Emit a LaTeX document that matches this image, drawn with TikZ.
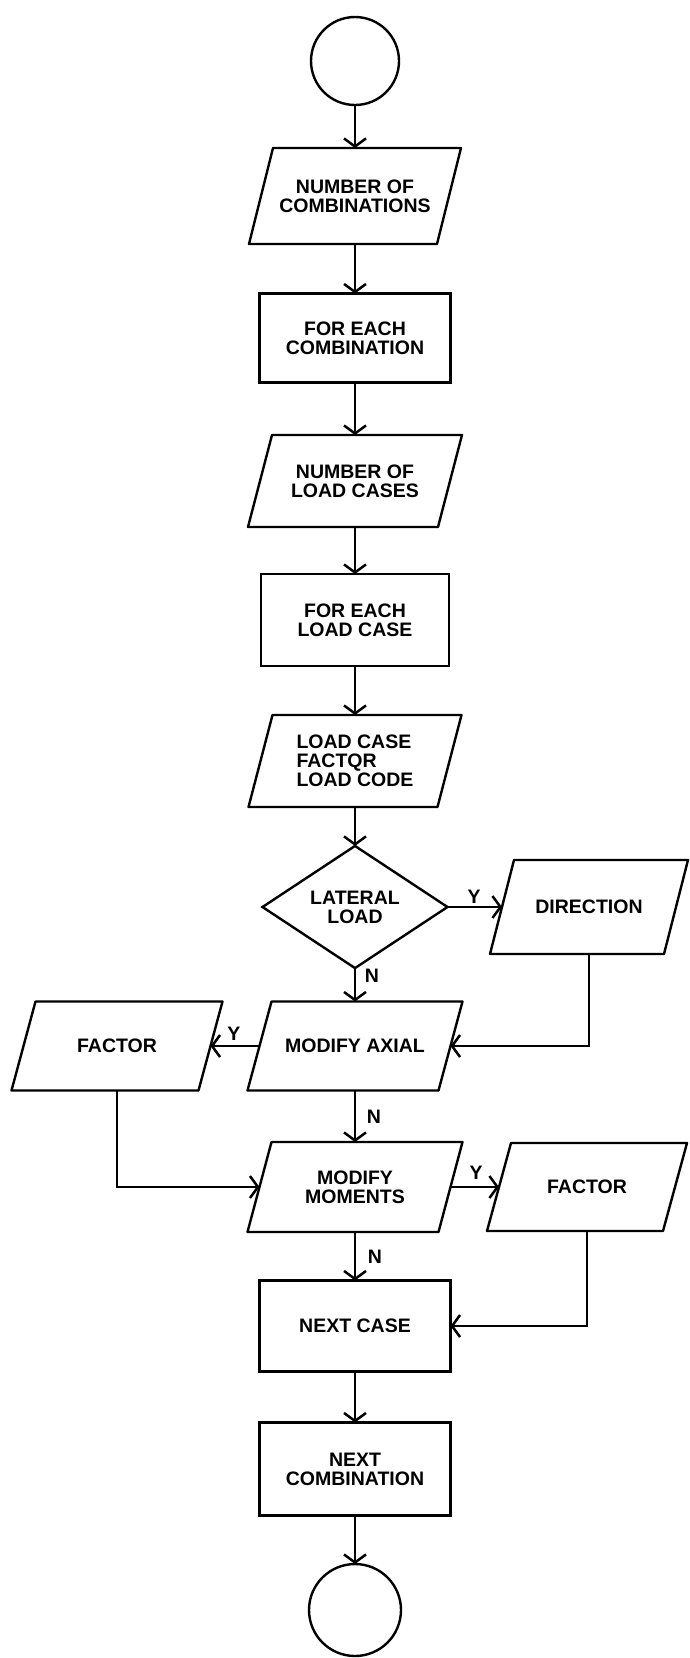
\documentclass[tikz,border=0pt]{standalone}
\usepackage{fontspec}
\setmainfont{Liberation Sans}
\usetikzlibrary{shapes.geometric,arrows.meta}
\newcommand\drawpara[1]{\draw[paraline] ([xshift=12pt]#1.north west) -- ([xshift=12pt]#1.north east) -- ([xshift=-12pt]#1.south east) -- ([xshift=-12pt]#1.south west) -- cycle;}
\begin{document}
\begin{tikzpicture}[x=1pt,y=-1pt,
  font=\fontsize{19.5}{19}\selectfont\bfseries,
  io/.style={rectangle,inner sep=0pt,outer sep=0pt,align=center},
  paraline/.style={line width=2.4pt,line join=round},
  proc/.style={draw,line width=2.4pt,rectangle,inner sep=0pt,outer sep=0pt,align=center},
  term/.style={draw,line width=2.4pt,circle,inner sep=0pt,outer sep=0pt},
  dec/.style={draw,line width=2.4pt,diamond,inner sep=0pt,outer sep=0pt,align=center},
  conn/.style={line width=1.2pt,-{Straight Barb[length=8pt,width=22pt,line width=2.5pt]}},
  lbl/.style={inner sep=0pt}
]
\useasboundingbox (0,0) rectangle (689,1658);

\node[term,minimum size=88pt] (c1) at (355,61) {};
\node[io,minimum width=188pt,minimum height=96pt] (p1) at (355,196) {NUMBER OF\\COMBINATIONS};
\node[proc,minimum width=191pt,minimum height=89pt] (r1) at (355,338) {FOR EACH\\COMBINATION};
\node[io,minimum width=190pt,minimum height=92pt] (p2) at (355,481) {NUMBER OF\\LOAD CASES};
\node[proc,minimum width=188pt,minimum height=92pt] (r2) at (355,620) {FOR EACH\\LOAD CASE};
\node[io,minimum width=189pt,minimum height=92pt,align=left] (p3) at (355,761) {LOAD CASE\\FACTQR\\LOAD CODE};
\node[dec,minimum width=185pt,minimum height=98pt] (dia) at (355,907) {LATERAL\\LOAD};
\node[io,minimum width=174pt,minimum height=94pt] (dir) at (589,907) {DIRECTION};
\node[io,minimum width=191pt,minimum height=89pt] (ax) at (355,1046) {MODIFY AXIAL};
\node[io,minimum width=187pt,minimum height=89pt] (fL) at (117,1046) {FACTOR};
\node[io,minimum width=191pt,minimum height=90pt] (mom) at (355,1187) {MODIFY\\MOMENTS};
\node[io,minimum width=176pt,minimum height=88pt] (fR) at (587,1187) {FACTOR};
\node[proc,minimum width=191pt,minimum height=91pt] (nc) at (355,1326) {NEXT CASE};
\node[proc,minimum width=191pt,minimum height=93pt] (ncomb) at (355,1469) {NEXT\\COMBINATION};
\node[term,minimum size=92pt] (c2) at (355,1610) {};

\drawpara{p1}
\drawpara{p2}
\drawpara{p3}
\drawpara{dir}
\drawpara{ax}
\drawpara{fL}
\drawpara{mom}
\drawpara{fR}

\node[lbl] (ly1) at (474,897) {Y};
\node[lbl] (ln1) at (372,976) {N};
\node[lbl] (ly2) at (234,1034) {Y};
\node[lbl] (ln2) at (374,1117) {N};
\node[lbl] (ly3) at (476,1173) {Y};
\node[lbl] (ln3) at (375,1257) {N};

\draw[conn] (c1) -- (p1);
\draw[conn] (p1) -- (r1);
\draw[conn] (r1) -- (p2);
\draw[conn] (p2) -- (r2);
\draw[conn] (r2) -- (p3);
\draw[conn] (p3) -- (dia);
\draw[conn] (dia) -- (dir);
\draw[conn] (dia) -- (ax);
\draw[conn] (dir) |- (ax);
\draw[conn] (ax) -- (fL);
\draw[conn] (fL) |- (mom);
\draw[conn] (ax) -- (mom);
\draw[conn] (mom) -- (fR);
\draw[conn] (mom) -- (nc);
\draw[conn] (fR) |- (nc);
\draw[conn] (nc) -- (ncomb);
\draw[conn] (ncomb) -- (c2);
\end{tikzpicture}
\end{document}
